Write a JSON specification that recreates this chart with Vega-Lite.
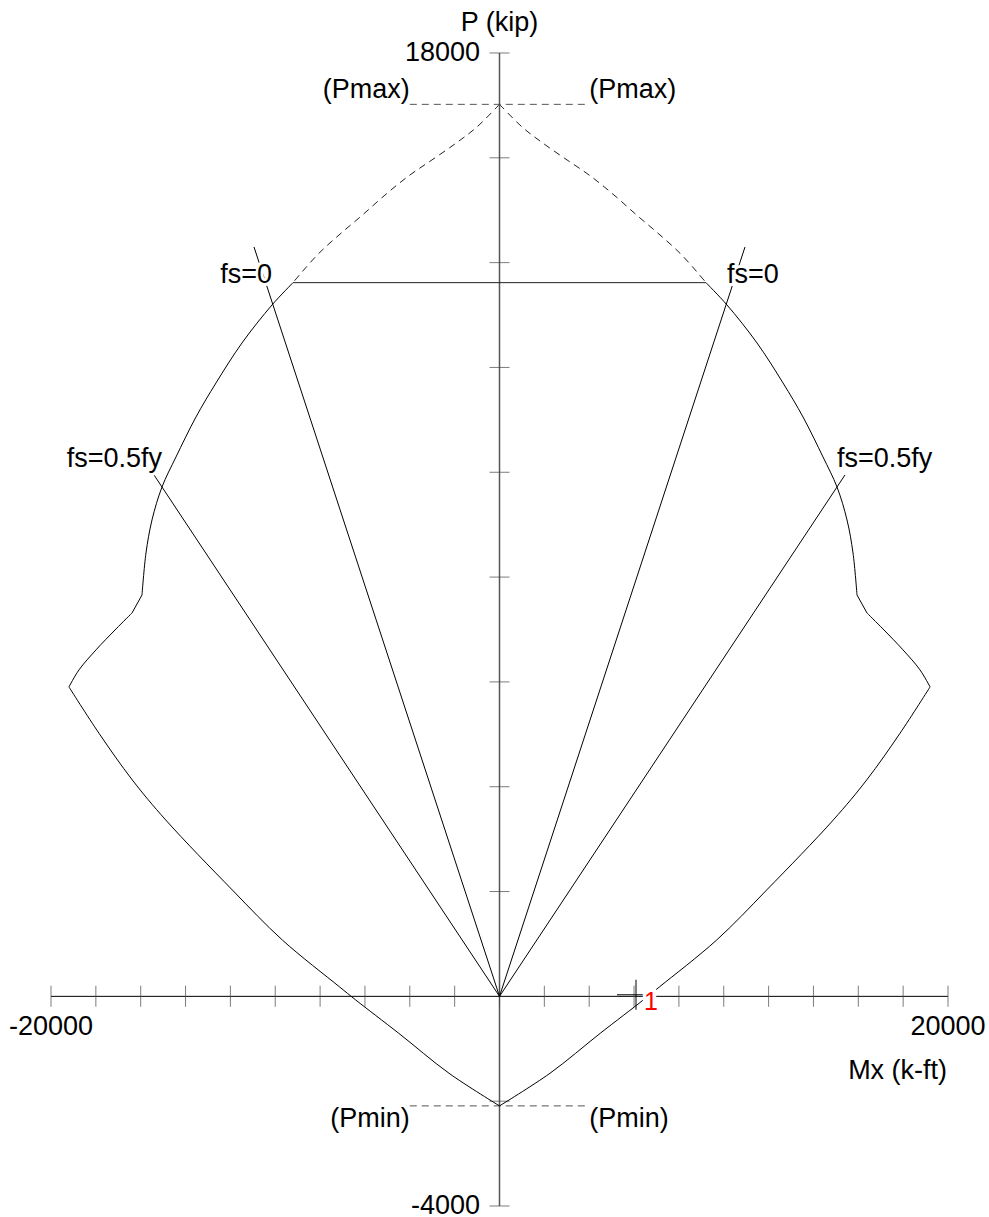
{
  "$schema": "https://vega.github.io/schema/vega-lite/v6.json",
  "width": 989,
  "height": 1217,
  "padding": 0,
  "autosize": {"type": "none"},
  "background": "white",
  "config": {"view": {"stroke": null}},
  "datasets": {
    "yaxis": [{"i": 0, "mx": 0, "p": -4000}, {"i": 1, "mx": 0, "p": 18000}],
    "xaxis": [{"i": 0, "mx": -20000, "p": 0}, {"i": 1, "mx": 20000, "p": 0}],
    "xticks": [
      {"mx": -20000, "p": 0}, {"mx": -18000, "p": 0}, {"mx": -16000, "p": 0}, {"mx": -14000, "p": 0},
      {"mx": -12000, "p": 0}, {"mx": -10000, "p": 0}, {"mx": -8000, "p": 0}, {"mx": -6000, "p": 0},
      {"mx": -4000, "p": 0}, {"mx": -2000, "p": 0}, {"mx": 0, "p": 0}, {"mx": 2000, "p": 0},
      {"mx": 4000, "p": 0}, {"mx": 6000, "p": 0}, {"mx": 8000, "p": 0}, {"mx": 10000, "p": 0},
      {"mx": 12000, "p": 0}, {"mx": 14000, "p": 0}, {"mx": 16000, "p": 0}, {"mx": 18000, "p": 0},
      {"mx": 20000, "p": 0}
    ],
    "yticks": [
      {"mx": 0, "p": -4000}, {"mx": 0, "p": -2000}, {"mx": 0, "p": 2000}, {"mx": 0, "p": 4000},
      {"mx": 0, "p": 6000}, {"mx": 0, "p": 8000}, {"mx": 0, "p": 10000}, {"mx": 0, "p": 12000},
      {"mx": 0, "p": 14000}, {"mx": 0, "p": 16000}, {"mx": 0, "p": 18000}
    ],
    "curve": [
      {"seg": "RA", "i": 0, "mx": 9208, "p": 13618}, {"seg": "RA", "i": 1, "mx": 10145, "p": 13192},
      {"seg": "RA", "i": 2, "mx": 11483, "p": 12467}, {"seg": "RA", "i": 3, "mx": 12642, "p": 11704},
      {"seg": "RA", "i": 4, "mx": 13534, "p": 11055}, {"seg": "RA", "i": 5, "mx": 14426, "p": 10292},
      {"seg": "RA", "i": 6, "mx": 15050, "p": 9719}, {"seg": "RA", "i": 7, "mx": 15496, "p": 9090},
      {"seg": "RA", "i": 8, "mx": 15764, "p": 8460}, {"seg": "RA", "i": 9, "mx": 15942, "p": 7658},
      {"seg": "RB", "i": 0, "mx": 15942, "p": 7658}, {"seg": "RB", "i": 1, "mx": 16388, "p": 7315},
      {"seg": "RC", "i": 0, "mx": 16388, "p": 7315}, {"seg": "RC", "i": 1, "mx": 17101, "p": 7010},
      {"seg": "RC", "i": 2, "mx": 17993, "p": 6611}, {"seg": "RC", "i": 3, "mx": 18751, "p": 6229},
      {"seg": "RC", "i": 4, "mx": 19200, "p": 5904},
      {"seg": "RD", "i": 0, "mx": 19200, "p": 5904}, {"seg": "RD", "i": 1, "mx": 17860, "p": 5020},
      {"seg": "RD", "i": 2, "mx": 16374, "p": 4129}, {"seg": "RD", "i": 3, "mx": 14885, "p": 3366},
      {"seg": "RD", "i": 4, "mx": 11915, "p": 2030},
      {"seg": "RD", "i": 5, "mx": 9686, "p": 1076}, {"seg": "RD", "i": 6, "mx": 7146, "p": 185},
      {"seg": "RD", "i": 7, "mx": 6412, "p": -69}, {"seg": "RD", "i": 8, "mx": 4494, "p": -704},
      {"seg": "RD", "i": 9, "mx": 2252, "p": -1467}, {"seg": "RD", "i": 10, "mx": 0, "p": -2090},
      {"seg": "LA", "i": 0, "mx": -9208, "p": 13618}, {"seg": "LA", "i": 1, "mx": -10145, "p": 13192},
      {"seg": "LA", "i": 2, "mx": -11483, "p": 12467}, {"seg": "LA", "i": 3, "mx": -12642, "p": 11704},
      {"seg": "LA", "i": 4, "mx": -13534, "p": 11055}, {"seg": "LA", "i": 5, "mx": -14426, "p": 10292},
      {"seg": "LA", "i": 6, "mx": -15050, "p": 9719}, {"seg": "LA", "i": 7, "mx": -15496, "p": 9090},
      {"seg": "LA", "i": 8, "mx": -15764, "p": 8460}, {"seg": "LA", "i": 9, "mx": -15942, "p": 7658},
      {"seg": "LB", "i": 0, "mx": -15942, "p": 7658}, {"seg": "LB", "i": 1, "mx": -16388, "p": 7315},
      {"seg": "LC", "i": 0, "mx": -16388, "p": 7315}, {"seg": "LC", "i": 1, "mx": -17101, "p": 7010},
      {"seg": "LC", "i": 2, "mx": -17993, "p": 6611}, {"seg": "LC", "i": 3, "mx": -18751, "p": 6229},
      {"seg": "LC", "i": 4, "mx": -19200, "p": 5904},
      {"seg": "LD", "i": 0, "mx": -19200, "p": 5904}, {"seg": "LD", "i": 1, "mx": -17860, "p": 5020},
      {"seg": "LD", "i": 2, "mx": -16374, "p": 4129}, {"seg": "LD", "i": 3, "mx": -14885, "p": 3366},
      {"seg": "LD", "i": 4, "mx": -11915, "p": 2030},
      {"seg": "LD", "i": 5, "mx": -9686, "p": 1076}, {"seg": "LD", "i": 6, "mx": -7146, "p": 185},
      {"seg": "LD", "i": 7, "mx": -6412, "p": -69}, {"seg": "LD", "i": 8, "mx": -4494, "p": -704},
      {"seg": "LD", "i": 9, "mx": -2252, "p": -1467}, {"seg": "LD", "i": 10, "mx": 0, "p": -2090}
    ],
    "dashcurve": [
      {"seg": "R", "i": 0, "mx": 0, "p": 17020}, {"seg": "R", "i": 1, "mx": 1003, "p": 16589},
      {"seg": "R", "i": 2, "mx": 1882, "p": 16297}, {"seg": "R", "i": 3, "mx": 2965, "p": 15973},
      {"seg": "R", "i": 4, "mx": 4036, "p": 15659}, {"seg": "R", "i": 5, "mx": 5106, "p": 15290},
      {"seg": "R", "i": 6, "mx": 6145, "p": 14896}, {"seg": "R", "i": 7, "mx": 7113, "p": 14544},
      {"seg": "R", "i": 8, "mx": 8049, "p": 14179}, {"seg": "R", "i": 9, "mx": 8794, "p": 13828},
      {"seg": "R", "i": 10, "mx": 9208, "p": 13618},
      {"seg": "L", "i": 0, "mx": 0, "p": 17020}, {"seg": "L", "i": 1, "mx": -1003, "p": 16589},
      {"seg": "L", "i": 2, "mx": -1882, "p": 16297}, {"seg": "L", "i": 3, "mx": -2965, "p": 15973},
      {"seg": "L", "i": 4, "mx": -4036, "p": 15659}, {"seg": "L", "i": 5, "mx": -5106, "p": 15290},
      {"seg": "L", "i": 6, "mx": -6145, "p": 14896}, {"seg": "L", "i": 7, "mx": -7113, "p": 14544},
      {"seg": "L", "i": 8, "mx": -8049, "p": 14179}, {"seg": "L", "i": 9, "mx": -8794, "p": 13828},
      {"seg": "L", "i": 10, "mx": -9208, "p": 13618}
    ],
    "limits": [
      {"seg": "Pmax", "i": 0, "mx": -4000, "p": 17020}, {"seg": "Pmax", "i": 1, "mx": 4000, "p": 17020},
      {"seg": "Pmin", "i": 0, "mx": -4000, "p": -2090}, {"seg": "Pmin", "i": 1, "mx": 4000, "p": -2090}
    ],
    "cutoff": [{"i": 0, "mx": -9208, "p": 13618}, {"i": 1, "mx": 9208, "p": 13618}],
    "radial": [
      {"seg": "fs0R", "i": 0, "mx": 0, "p": 0}, {"seg": "fs0R", "i": 1, "mx": 10948, "p": 14299},
      {"seg": "fs0L", "i": 0, "mx": 0, "p": 0}, {"seg": "fs0L", "i": 1, "mx": -10948, "p": 14299},
      {"seg": "fs05R", "i": 0, "mx": 0, "p": 0}, {"seg": "fs05R", "i": 1, "mx": 15407, "p": 9949},
      {"seg": "fs05L", "i": 0, "mx": 0, "p": 0}, {"seg": "fs05L", "i": 1, "mx": -15407, "p": 9949}
    ],
    "loadpoint": [{"mx": 6087, "p": 30, "label": "1"}],
    "labels": [
      {"grp": "fsR", "mx": 10145, "p": 13618, "label": "fs=0"},
      {"grp": "fsR", "mx": 15050, "p": 10107, "label": "fs=0.5fy"},
      {"grp": "fsL", "mx": -10145, "p": 13618, "label": "fs=0"},
      {"grp": "fsL", "mx": -15050, "p": 10107, "label": "fs=0.5fy"},
      {"grp": "fsL", "mx": 19960, "p": -1580, "label": "Mx (k-ft)"},
      {"grp": "pmaxR", "mx": 4000, "p": 17020, "label": "(Pmax)"},
      {"grp": "pmaxL", "mx": -4000, "p": 17020, "label": "(Pmax)"},
      {"grp": "pminR", "mx": 4000, "p": -2090, "label": "(Pmin)"},
      {"grp": "pminL", "mx": -4000, "p": -2090, "label": "(Pmin)"},
      {"grp": "yl", "mx": -870, "p": 18000, "label": "18000"},
      {"grp": "yl", "mx": -870, "p": -4000, "label": "-4000"},
      {"grp": "ctr", "mx": -20000, "p": -746, "label": "-20000"},
      {"grp": "ctr", "mx": 20000, "p": -746, "label": "20000"},
      {"grp": "ctr", "mx": 0, "p": 18420, "label": "P (kip)"}
    ]
  },
  "encoding": {
    "x": {"field": "mx", "type": "quantitative", "scale": {"domain": [-22274, 21828], "nice": false, "zero": false}, "axis": null},
    "y": {"field": "p", "type": "quantitative", "scale": {"domain": [-4210, 19011], "nice": false, "zero": false}, "axis": null}
  },
  "layer": [
    {"data": {"name": "yaxis"}, "mark": {"type": "line", "stroke": "#555", "strokeWidth": 1.5}, "encoding": {"order": {"field": "i"}}},
    {"data": {"name": "xaxis"}, "mark": {"type": "line", "stroke": "black", "strokeWidth": 1}, "encoding": {"order": {"field": "i"}}},
    {"data": {"name": "xticks"}, "mark": {"type": "tick", "orient": "vertical", "size": 21, "thickness": 1, "color": "#444"}},
    {"data": {"name": "yticks"}, "mark": {"type": "tick", "orient": "horizontal", "size": 20, "thickness": 1, "color": "#444"}},
    {"data": {"name": "cutoff"}, "mark": {"type": "line", "stroke": "#222", "strokeWidth": 1}, "encoding": {"order": {"field": "i"}}},
    {"data": {"name": "radial"}, "mark": {"type": "line", "stroke": "black", "strokeWidth": 1}, "encoding": {"detail": {"field": "seg"}, "order": {"field": "i"}}},
    {"data": {"name": "dashcurve"}, "mark": {"type": "line", "interpolate": "catmull-rom", "stroke": "#222", "strokeWidth": 1, "strokeDash": [7, 5]}, "encoding": {"detail": {"field": "seg"}, "order": {"field": "i"}}},
    {"data": {"name": "limits"}, "mark": {"type": "line", "stroke": "#555", "strokeWidth": 1, "strokeDash": [7, 5]}, "encoding": {"detail": {"field": "seg"}, "order": {"field": "i"}}},
    {"data": {"name": "curve"}, "mark": {"type": "line", "interpolate": "catmull-rom", "stroke": "black", "strokeWidth": 1}, "encoding": {"detail": {"field": "seg"}, "order": {"field": "i"}}},
    {"data": {"name": "loadpoint"}, "mark": {"type": "point", "shape": "M-1,0H1M0,-0.79V0.79", "size": 1444, "filled": false, "stroke": "black", "strokeWidth": 1, "opacity": 1}},
    {"data": {"name": "loadpoint"}, "mark": {"type": "text", "font": "Liberation Sans", "fontSize": 25, "align": "center", "baseline": "alphabetic", "dx": 15, "dy": 15, "fill": "white", "stroke": "white", "strokeWidth": 7}, "encoding": {"text": {"field": "label"}}},
    {"data": {"name": "loadpoint"}, "mark": {"type": "text", "font": "Liberation Sans", "fontSize": 25, "align": "center", "baseline": "alphabetic", "dx": 15, "dy": 15, "fill": "#ff0000"}, "encoding": {"text": {"field": "label"}}},
    {"data": {"name": "labels"}, "transform": [{"filter": "datum.grp === 'fsR'"}], "mark": {"type": "text", "font": "Liberation Sans", "fontSize": 27, "align": "left", "baseline": "alphabetic", "fill": "white", "stroke": "white", "strokeWidth": 6}, "encoding": {"text": {"field": "label"}}},
    {"data": {"name": "labels"}, "transform": [{"filter": "datum.grp === 'fsL'"}], "mark": {"type": "text", "font": "Liberation Sans", "fontSize": 27, "align": "right", "baseline": "alphabetic", "fill": "white", "stroke": "white", "strokeWidth": 6}, "encoding": {"text": {"field": "label"}}},
    {"data": {"name": "labels"}, "transform": [{"filter": "datum.grp === 'fsR'"}], "mark": {"type": "text", "font": "Liberation Sans", "fontSize": 27, "align": "left", "baseline": "alphabetic", "fill": "black"}, "encoding": {"text": {"field": "label"}}},
    {"data": {"name": "labels"}, "transform": [{"filter": "datum.grp === 'fsL'"}], "mark": {"type": "text", "font": "Liberation Sans", "fontSize": 27, "align": "right", "baseline": "alphabetic", "fill": "black"}, "encoding": {"text": {"field": "label"}}},
    {"data": {"name": "labels"}, "transform": [{"filter": "datum.grp === 'pmaxR'"}], "mark": {"type": "text", "font": "Liberation Sans", "fontSize": 27, "align": "left", "baseline": "bottom", "fill": "black"}, "encoding": {"text": {"field": "label"}}},
    {"data": {"name": "labels"}, "transform": [{"filter": "datum.grp === 'pmaxL'"}], "mark": {"type": "text", "font": "Liberation Sans", "fontSize": 27, "align": "right", "baseline": "bottom", "fill": "black"}, "encoding": {"text": {"field": "label"}}},
    {"data": {"name": "labels"}, "transform": [{"filter": "datum.grp === 'pminR'"}], "mark": {"type": "text", "font": "Liberation Sans", "fontSize": 27, "align": "left", "baseline": "top", "fill": "black"}, "encoding": {"text": {"field": "label"}}},
    {"data": {"name": "labels"}, "transform": [{"filter": "datum.grp === 'pminL'"}], "mark": {"type": "text", "font": "Liberation Sans", "fontSize": 27, "align": "right", "baseline": "top", "fill": "black"}, "encoding": {"text": {"field": "label"}}},
    {"data": {"name": "labels"}, "transform": [{"filter": "datum.grp === 'yl'"}], "mark": {"type": "text", "font": "Liberation Sans", "fontSize": 27, "align": "right", "baseline": "middle", "fill": "black"}, "encoding": {"text": {"field": "label"}}},
    {"data": {"name": "labels"}, "transform": [{"filter": "datum.grp === 'ctr'"}], "mark": {"type": "text", "font": "Liberation Sans", "fontSize": 27, "align": "center", "baseline": "alphabetic", "fill": "black"}, "encoding": {"text": {"field": "label"}}}
  ]
}
